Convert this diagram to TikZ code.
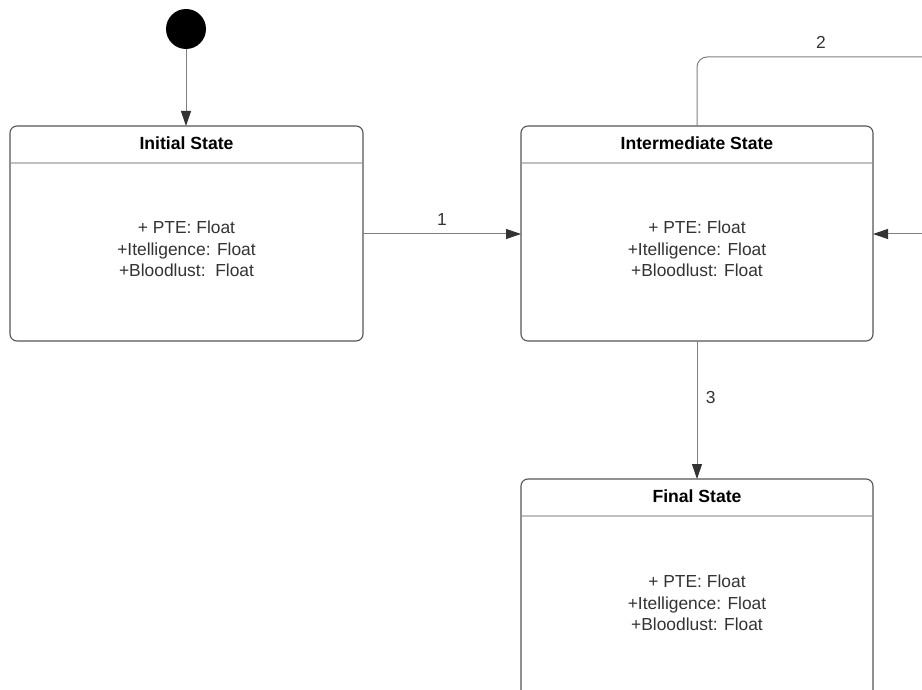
\documentclass[tikz,border=0pt]{standalone}
\usepackage{fontspec}
\setmainfont{Liberation Sans}
\usetikzlibrary{arrows.meta}
\definecolor{boxline}{HTML}{555555}
\definecolor{divline}{HTML}{C0C0C0}
\definecolor{txt}{HTML}{333333}
\definecolor{conn}{HTML}{808080}
\definecolor{tip}{HTML}{333333}
\tikzset{
  statebox/.style={draw=boxline, line width=1.1pt, rounded corners=7pt, fill=white},
  divider/.style={draw=divline, line width=1.1pt},
  titletext/.style={font=\fontsize{17.6}{20}\selectfont\bfseries, text=black},
  bodytext/.style={font=\fontsize{17.4}{21.3}\selectfont, text=txt, align=center},
  conn/.style={draw=conn, line width=1pt, -{Triangle[length=15pt,width=10pt,color=tip]}},
  lbl/.style={font=\fontsize{17.4}{20}\selectfont, text=txt}
}
\begin{document}
\begin{tikzpicture}[x=1pt,y=-1pt]
\useasboundingbox (0,0) rectangle (922,690);
\clip (0,0) rectangle (922,690);
% start
\node[circle, fill=black, minimum size=40pt, inner sep=0pt] (start) at (186,29) {};
% initial
\draw[statebox] (10,126) rectangle (363,341);
\coordinate (initT) at (186,126);
\coordinate (initR) at (363,234);
\draw[divider] (10.6,163) -- (362.4,163);
\node[titletext] (initTitle) at (186.5,143) {Initial State};
\node[bodytext] (initBody) at (186.5,249) {+ PTE: Float\\+Itelligence: Float\\+Bloodlust:\ \ Float};
% intermediate
\draw[statebox] (521,126) rectangle (873,341);
\coordinate (midL) at (521,234);
\coordinate (midR) at (873,234);
\coordinate (midT) at (697,126);
\coordinate (midB) at (697,341);
\draw[divider] (521.6,163) -- (872.4,163);
\node[titletext] (midTitle) at (697,143) {Intermediate State};
\node[bodytext] (midBody) at (697,249) {+ PTE: Float\\+Itelligence: Float\\+Bloodlust: Float};
% final
\draw[statebox] (521,479) rectangle (873,700);
\coordinate (finT) at (697,479);
\draw[divider] (521.6,516) -- (872.4,516);
\node[titletext] (finTitle) at (697,496) {Final State};
\node[bodytext] (finBody) at (697,603) {+ PTE: Float\\+Itelligence: Float\\+Bloodlust: Float};
% connectors
\draw[conn] (start) -- (initT);
\draw[conn] (initR) -- node[lbl, above=5pt] (l1) {1} (midL);
\coordinate (loopA) at (697,57);
\coordinate (loopB) at (940,57);
\coordinate (loopC) at (940,234);
\draw[conn, -] (midT) [rounded corners=10pt] -- (loopA) -- (loopB) -- (loopC);
\node[lbl] (l2) at (821,42) {2};
\draw[conn] (loopC) -- (midR);
\draw[conn] (midB) -- node[lbl, right=5pt, pos=0.41] (l3) {3} (finT);
\end{tikzpicture}
\end{document}
